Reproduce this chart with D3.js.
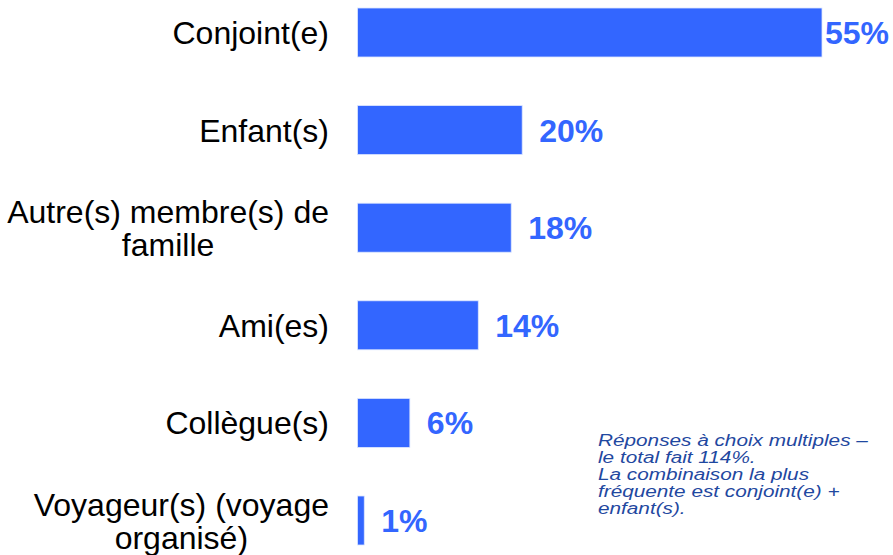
<html>
<head>
<style>
  body { margin: 0; background: #fff; }
  text { font-family: Arial, "Liberation Sans", sans-serif; }
</style>
</head>
<body>
<svg width="893" height="555"></svg>
<script src="https://d3js.org/d3.v7.min.js"></script>
<script>
// data
var categories = [
  ["Conjoint(e)"],
  ["Enfant(s)"],
  ["Autre(s) membre(s) de", "famille"],
  ["Ami(es)"],
  ["Collègue(s)"],
  ["Voyageur(s) (voyage", "organisé)"]
];
var values = [55, 19.5, 18.2, 14.3, 6.2, 0.8];   // bar lengths as drawn
var labels = ["55%", "20%", "18%", "14%", "6%", "1%"];
var note = [
  "Réponses à choix multiples –",
  "le total fait 114%.",
  "La combinaison la plus",
  "fréquente est conjoint(e) +",
  "enfant(s)."
];

var svg = d3.select("svg"),
    width = +svg.attr("width"),
    height = +svg.attr("height");

var blue = "#3366ff";

var x = d3.scaleLinear().domain([0, 55]).range([357.5, 822]);
var y = d3.scaleBand().domain(d3.range(values.length)).range([8, 545]).paddingInner(0.498).paddingOuter(0);

var rows = svg.selectAll("g.row")
  .data(values)
  .enter().append("g").attr("class", "row");

rows.append("rect")
  .attr("x", x(0))
  .attr("y", function(d, i) { return y(i); })
  .attr("width", function(d) { return x(d) - x(0); })
  .attr("height", y.bandwidth())
  .attr("fill", blue)
  .attr("stroke", "#dce6ff")
  .attr("stroke-width", 0.8);

// value labels
rows.append("text")
  .attr("x", function(d) { return x(d) + 17; })
  .attr("y", function(d, i) { return y(i) + y.bandwidth() / 2; })
  .attr("dy", "0.36em")
  .attr("font-size", 32)
  .attr("font-weight", "bold")
  .attr("fill", blue)
  .text(function(d, i) { return labels[i]; })
  .each(function() {
    var t = d3.select(this);
    var w = this.getComputedTextLength();
    if (+t.attr("x") + w > width - 4) t.attr("x", width - 4 - w);
  });

// category labels (block right-aligned, lines centred)
rows.each(function(d, i) {
  var lines = categories[i];
  var lh = 33;
  var cy = y(i) + y.bandwidth() / 2;
  var t = d3.select(this).append("text")
    .attr("text-anchor", "middle")
    .attr("font-size", 32)
    .attr("fill", "#000");
  var spans = lines.map(function(l, k) {
    return t.append("tspan")
      .attr("y", cy + (k - (lines.length - 1) / 2) * lh)
      .attr("dy", "0.36em")
      .text(l);
  });
  var maxW = d3.max(spans, function(s) { return s.node().getComputedTextLength(); });
  spans.forEach(function(s) { s.attr("x", 329 - maxW / 2); });
});

// note
var nt = svg.append("text")
  .attr("font-size", 17.3)
  .attr("font-style", "italic")
  .attr("fill", "#1f48a0")
  .attr("transform", "translate(598,0) scale(1.2,1)");
note.forEach(function(l, k) {
  nt.append("tspan").attr("x", 0).attr("y", 446 + k * 17).text(l);
});
</script>
</body>
</html>
